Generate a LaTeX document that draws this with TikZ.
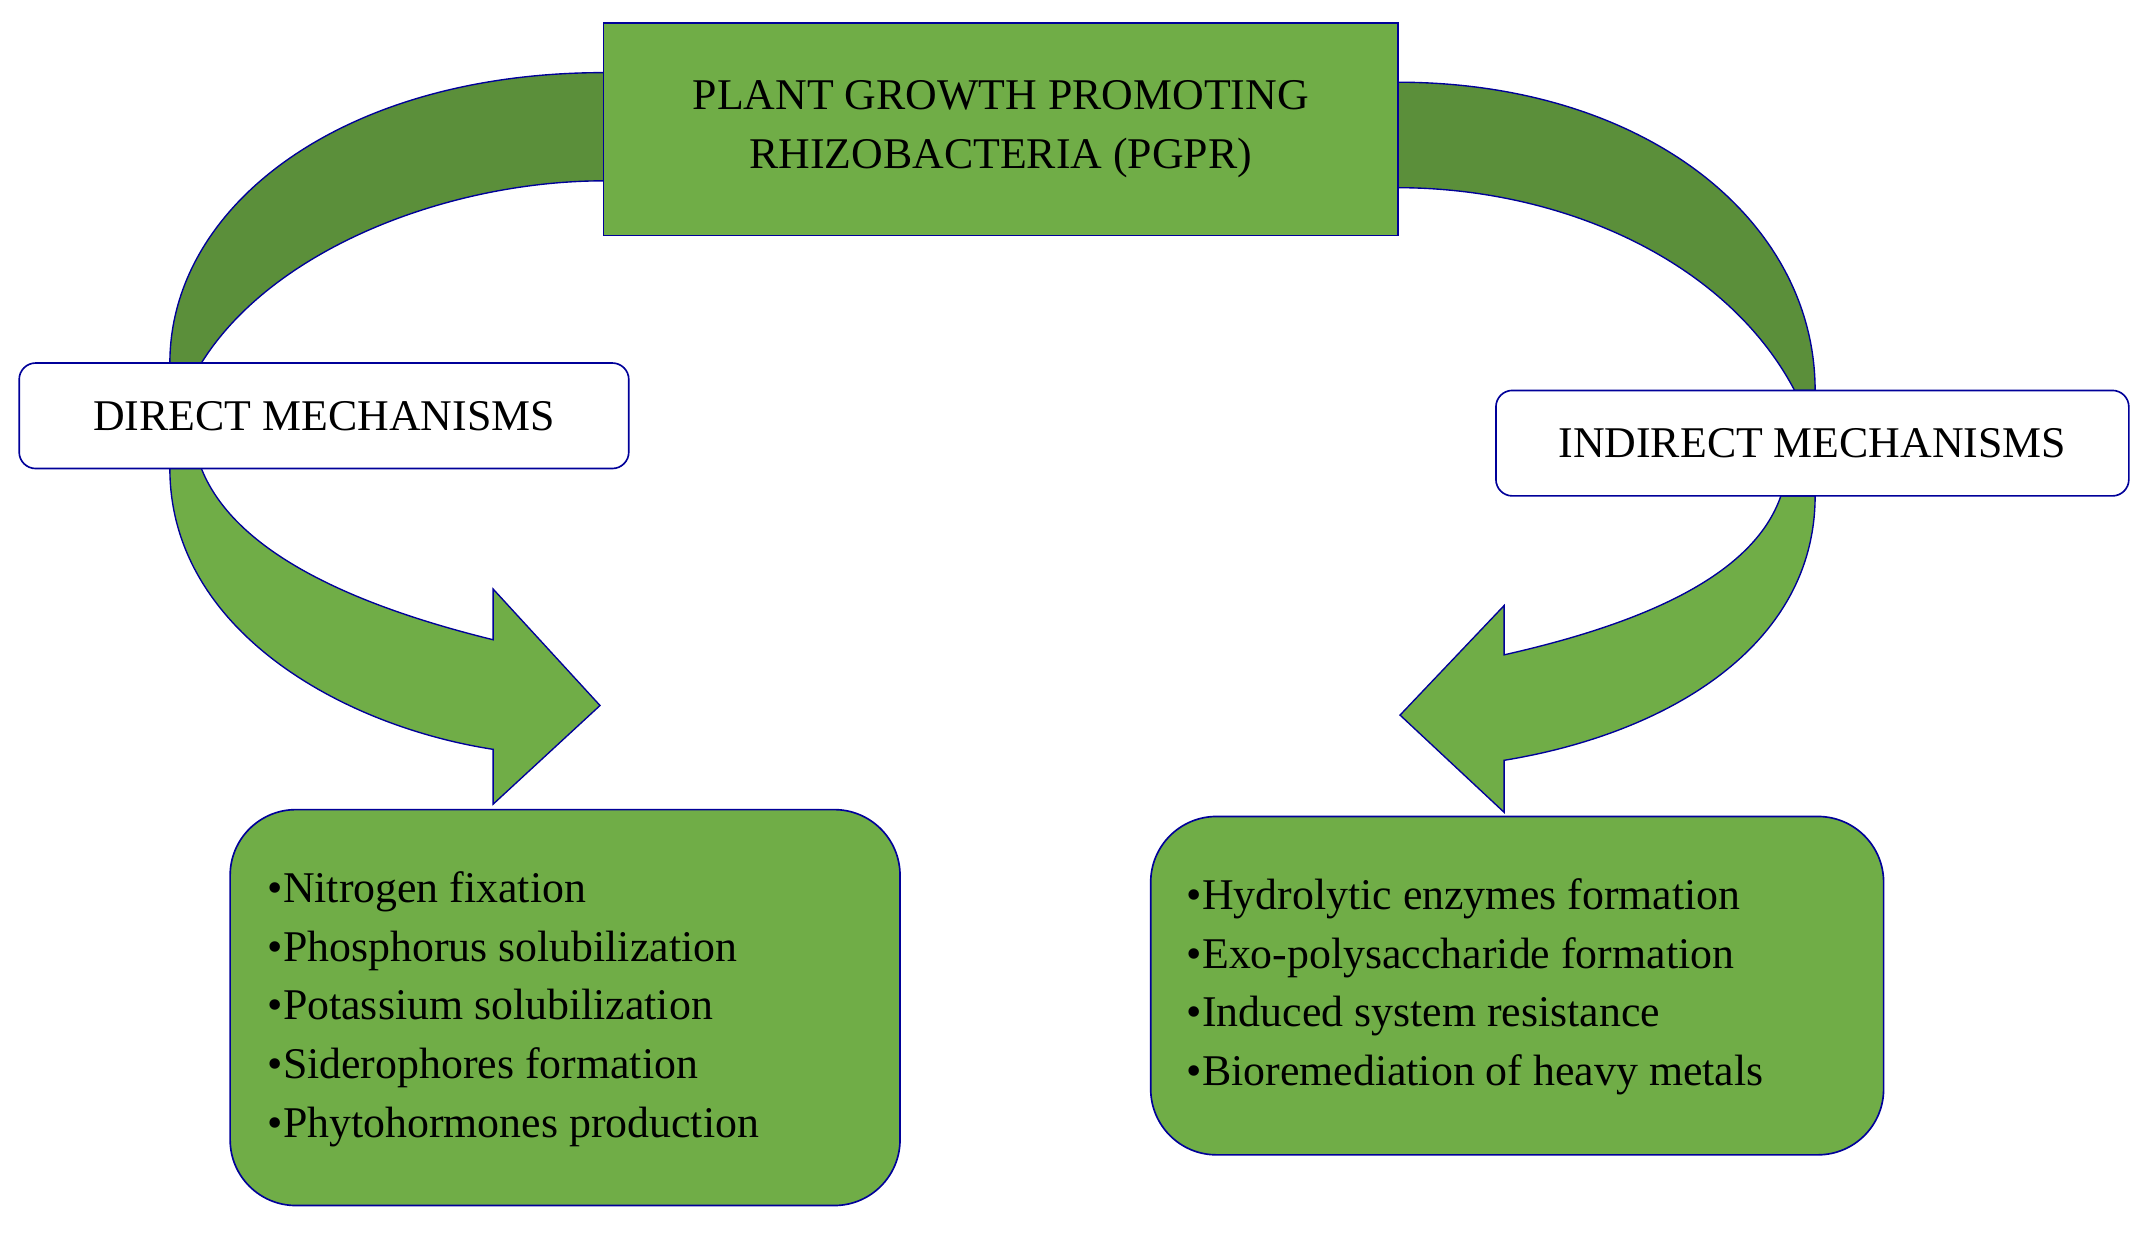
\documentclass[tikz,border=0pt]{standalone}
\usepackage{fontspec}
\setmainfont{Liberation Serif}
\begin{document}
\begin{tikzpicture}[x=0.5pt,y=-0.5pt,
  green box/.style={draw=blue!60!black,line width=0.6pt,fill=gfill},
  white box/.style={draw=blue!60!black,line width=0.6pt,fill=white,rounded corners=6pt},
  band/.style={draw=blue!60!black,line width=0.5pt,fill=gdark},
  arrowband/.style={draw=blue!60!black,line width=0.5pt,fill=gfill}]
\definecolor{gfill}{HTML}{70AD47}
\definecolor{gdark}{HTML}{5B8F3A}
\useasboundingbox (0,0) rectangle (1568,900);
% upper bands
\draw[band] (441,53) .. controls (250,53) and (124,150) .. (124,265) -- (147,265) .. controls (200,180) and (330,132) .. (441,132) -- cycle;
\draw[band] (1020,60) .. controls (1200,60) and (1325,160) .. (1325,285) -- (1310,285) .. controls (1260,190) and (1140,137) .. (1020,137) -- cycle;
% lower arrows
\draw[arrowband] (124,342) .. controls (124,460) and (250,530) .. (360,547) -- (360,587) -- (438,515) -- (360,430) -- (360,467) .. controls (250,440) and (170,400) .. (147,342) -- cycle;
\draw[arrowband] (1325,362) .. controls (1325,470) and (1220,535) .. (1098,555) -- (1098,593) -- (1022,522) -- (1098,442) -- (1098,478) .. controls (1200,455) and (1280,420) .. (1300,362) -- cycle;
% boxes
\node[green box,minimum width=290pt,minimum height=77.5pt,align=center,font=\fontsize{16}{21.5}\selectfont] (pgpr) at (730.5,94.5) {PLANT GROWTH PROMOTING\\RHIZOBACTERIA (PGPR)};
\node[white box,minimum width=222.5pt,minimum height=38.5pt,font=\fontsize{16}{19}\selectfont] (direct) at (236.5,303.5) {DIRECT MECHANISMS};
\node[white box,minimum width=231pt,minimum height=38.5pt,font=\fontsize{16}{19}\selectfont] (indirect) at (1323,323.5) {INDIRECT MECHANISMS};
\node[green box,rounded corners=24pt,minimum width=244.5pt,minimum height=144.5pt] (dlist) at (412.5,735.5) {};
\node[anchor=north west,align=left,inner sep=0pt,font=\fontsize{16}{21.4}\selectfont] (dtext) at (195,636) {•Nitrogen fixation\\•Phosphorus solubilization\\•Potassium solubilization\\•Siderophores formation\\•Phytohormones production};
\node[green box,rounded corners=24pt,minimum width=267.5pt,minimum height=123.5pt] (ilist) at (1107.5,719.5) {};
\node[anchor=north west,align=left,inner sep=0pt,font=\fontsize{16}{21.4}\selectfont] (itext) at (866,641) {•Hydrolytic enzymes formation\\•Exo-polysaccharide formation\\•Induced system resistance\\•Bioremediation of heavy metals};
\end{tikzpicture}
\end{document}
